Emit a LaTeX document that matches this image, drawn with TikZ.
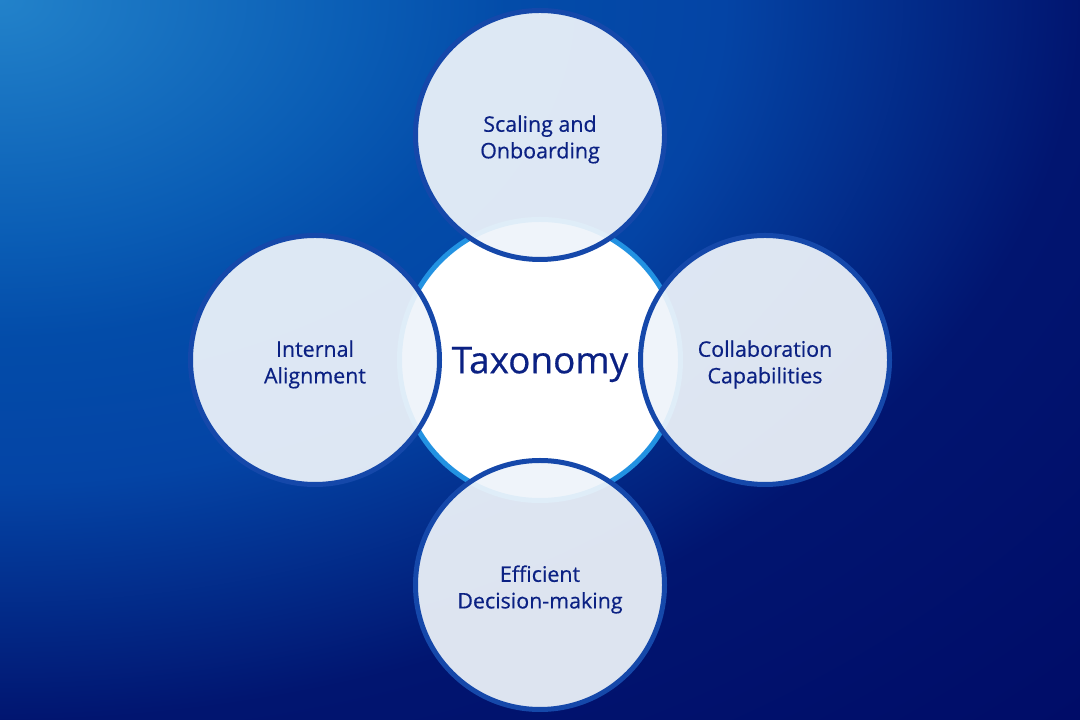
\documentclass[tikz,border=0pt]{standalone}
\usepackage{fontspec}
\setmainfont{Open Sans}[FakeBold=0.5]
\usetikzlibrary{positioning}

\definecolor{bgA}{HTML}{2282CA}
\definecolor{bgB}{HTML}{0A5DB5}
\definecolor{bgC}{HTML}{034CA9}
\definecolor{bgD}{HTML}{0444A5}
\definecolor{bgE}{HTML}{011570}
\definecolor{bgF}{HTML}{000C68}
\definecolor{hubring}{HTML}{2292E2}
\definecolor{topicring}{HTML}{1548AA}
\definecolor{topicfill}{HTML}{EEF4FA}
\definecolor{ink}{HTML}{0B2183}
\pgfdeclareradialshading{backdrop}{\pgfpoint{0bp}{0bp}}{color(0bp)=(bgA); color(5.85bp)=(bgB); color(8.3bp)=(bgC); color(11.85bp)=(bgD); color(17.7bp)=(bgE); color(25bp)=(bgF); color(50bp)=(bgF)}

\begin{document}
\begin{tikzpicture}[x=1bp,y=1bp,node distance=225bp,on grid,
    hub/.style={circle,draw=hubring,line width=5bp,fill=white,minimum size=281bp,inner sep=0pt},
    topic/.style={circle,draw=topicring,line width=5bp,fill=topicfill,fill opacity=0.93,minimum size=249bp,inner sep=0pt},
    caption/.style={text=ink,align=center,font=\fontsize{21.5}{26.7}\selectfont,yshift=-4.5bp},
    headline/.style={text=ink,font=\fontsize{37}{44}\selectfont,yshift=-4.5bp}]
  % background, light in the top left corner
  \begin{scope}
    \clip (0,0) rectangle (1080,720);
    \shade[shading=backdrop] (-1527,-298) rectangle (1527,1738);
  \end{scope}
  \useasboundingbox (0,0) rectangle (1080,720);

  \node[hub] (hub) at (540,360) {};
  \node[topic] (scaling) [above=of hub] {};
  \node[topic] (internal) [left=of hub] {};
  \node[topic] (collab) [right=of hub] {};
  \node[topic] (decision) [below=of hub] {};

  % labels
  \node[headline] (hub-txt) at (hub) {Taxonomy};
  \node[caption] (scaling-txt) at (scaling) {Scaling and\\Onboarding};
  \node[caption] (internal-txt) at (internal) {Internal\\Alignment};
  \node[caption] (collab-txt) at (collab) {Collaboration\\Capabilities};
  \node[caption] (decision-txt) at (decision) {Efficient\\Decision-making};
\end{tikzpicture}
\end{document}
